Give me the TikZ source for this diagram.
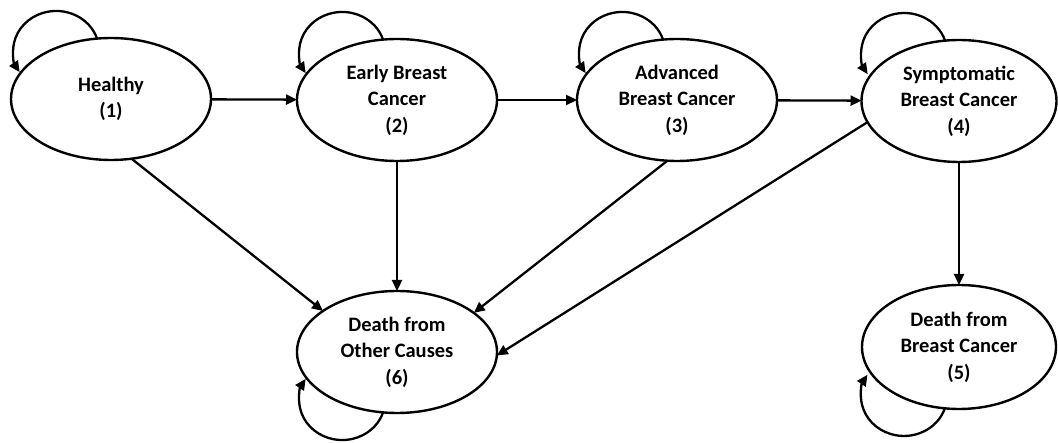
\documentclass[tikz,border=0pt]{standalone}
\usepackage{fontspec}
\setmainfont{Carlito}
\usetikzlibrary{shapes.geometric,arrows.meta}
\begin{document}
\begin{tikzpicture}[x=1pt,y=1pt,
  state/.style={ellipse,draw,line width=2.4pt,minimum width=200pt,minimum height=122pt,
    inner sep=0pt,outer sep=0pt,align=center,font=\fontsize{20.5}{26.5}\selectfont\bfseries},
  arr/.style={-{Triangle[length=11pt,width=10pt]},line width=2.3pt},
  selfloop/.style={arr,x radius=43pt,y radius=40pt}]
\useasboundingbox (0,0) rectangle (1058,442);
\node[state] (h) at (111,343) {Healthy\\(1)};
\node[state] (e) at (397,342) {Early Breast\\Cancer\\(2)};
\node[state] (a) at (677,342) {Advanced\\Breast Cancer\\(3)};
\node[state,minimum width=195pt] (s) at (959,341) {Symptomatic\\Breast Cancer\\(4)};
\node[state] (d6) at (397,90) {Death from\\Other Causes\\(6)};
\node[state,minimum width=194pt,minimum height=124pt] (d5) at (959,95) {Death from\\Breast Cancer\\(5)};
\draw[arr] (h) -- (e);
\draw[arr] (e) -- (a);
\draw[arr] (a) -- (s);
\draw[arr] (h.-71) -- (d6.151);
\draw[arr] (e) -- (d6);
\draw[arr] (a.-99) -- (d6.27);
\draw[arr] (s.193) -- (d6.-2);
\draw[arr] (s) -- (d5);
\draw[selfloop] (h.103) arc[start angle=18,end angle=212];
\draw[selfloop] (e.103) arc[start angle=18,end angle=212];
\draw[selfloop] (a.103) arc[start angle=18,end angle=212];
\draw[selfloop] (s.103) arc[start angle=18,end angle=212];
\draw[selfloop] (d6.-103) arc[start angle=-18,end angle=-212];
\draw[selfloop] (d5.-103) arc[start angle=-18,end angle=-212];
\end{tikzpicture}
\end{document}
